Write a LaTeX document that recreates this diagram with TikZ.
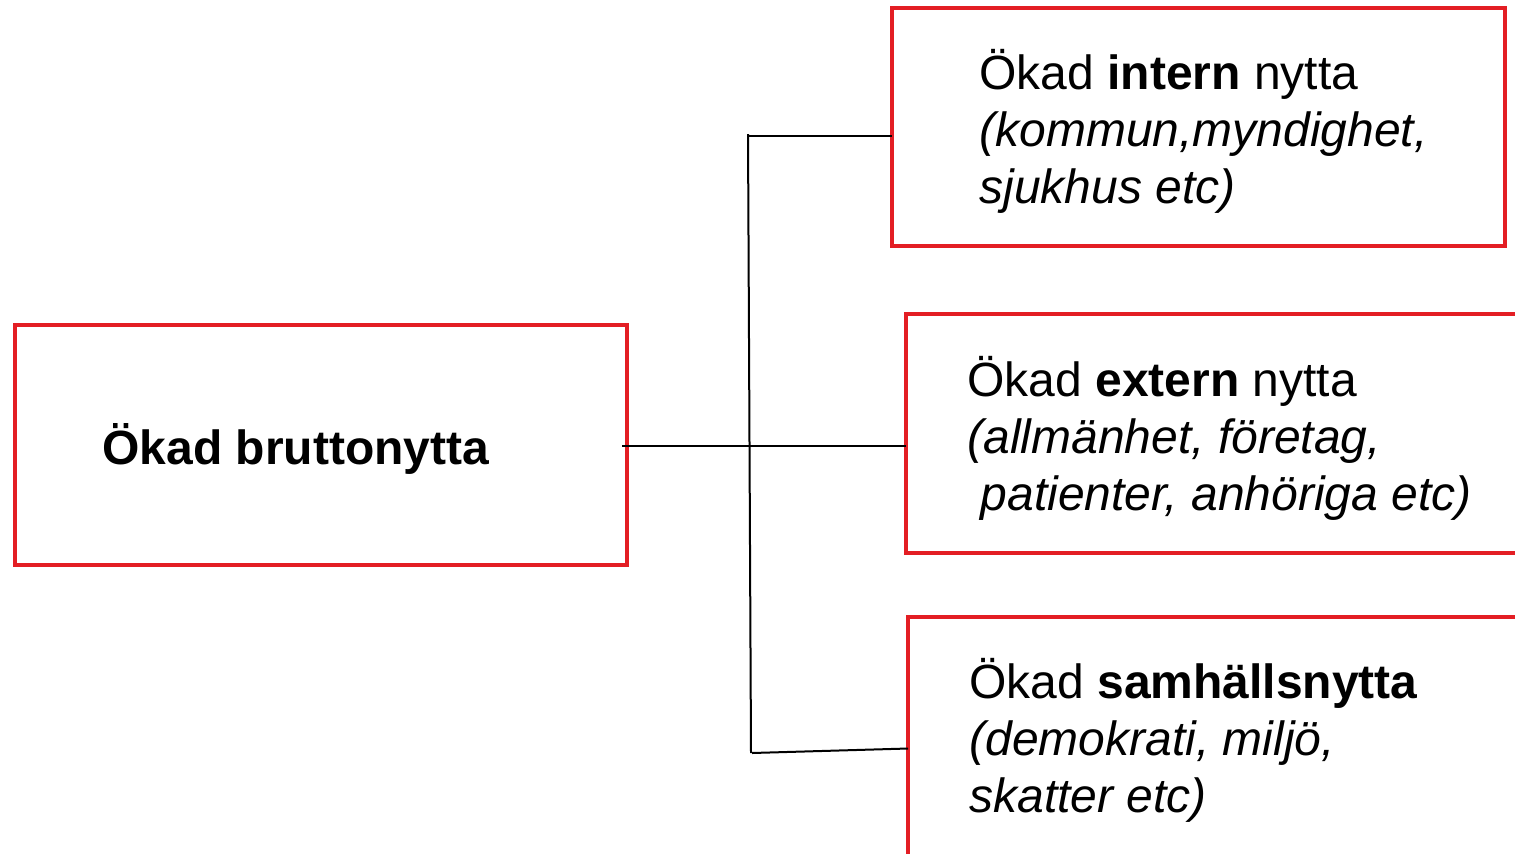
\documentclass[tikz,border=0pt]{standalone}
\usepackage{fontspec}
\setmainfont{Liberation Sans}
\definecolor{boxred}{RGB}{227,30,36}
\begin{document}
\begin{tikzpicture}[x=0.5pt,y=-0.5pt,
  box/.style={draw=boxred, line width=2pt, inner sep=0pt, outer sep=0pt},
  conn/.style={draw=black, line width=1pt},
  lbl/.style={anchor=base west, inner sep=0pt, align=left, font=\fontsize{24}{28.5}\selectfont}]
\useasboundingbox (0,0) rectangle (1515,853);
\clip (0,0) rectangle (1515,853);
% boxes
\node[box, minimum width=306pt, minimum height=120pt] (root) at (321,445) {};
\node[box, minimum width=306.5pt, minimum height=119pt] (inner) at (1198.5,127) {};
\node[box, minimum width=317pt, minimum height=119.5pt] (ext) at (1223,433.5) {};
\node[box, minimum width=316pt, minimum height=131.5pt] (soc) at (1224,748.5) {};
% texts (anchored at the baseline of the last line)
\node[lbl, font=\fontsize{24}{28.5}\selectfont\bfseries] (t0) at (102,464) {Ökad bruttonytta};
\node[lbl] (t1) at (979,203) {Ökad \textbf{intern} nytta\\\textit{(kommun,myndighet,}\\\textit{sjukhus etc)}};
\node[lbl] (t2) at (967,510) {Ökad \textbf{extern} nytta\\\textit{(allmänhet, företag,}\\\textit{\ patienter, anhöriga etc)}};
\node[lbl] (t3) at (969,812) {Ökad \textbf{samhällsnytta}\\\textit{(demokrati, miljö,}\\\textit{skatter etc)}};
% connectors
\coordinate (vt) at (748,134);
\coordinate (vb) at (751,753);
\coordinate (j1) at (748,136);
\coordinate (m0) at (622,446);
\coordinate (b0) at (752,753);
\draw[conn] (vt) -- (vb);
\draw[conn] (j1) -- (j1 -| inner.west);
\draw[conn] (m0) -- (m0 -| ext.west);
\draw[conn] (b0) -- (soc.west);
\end{tikzpicture}
\end{document}
